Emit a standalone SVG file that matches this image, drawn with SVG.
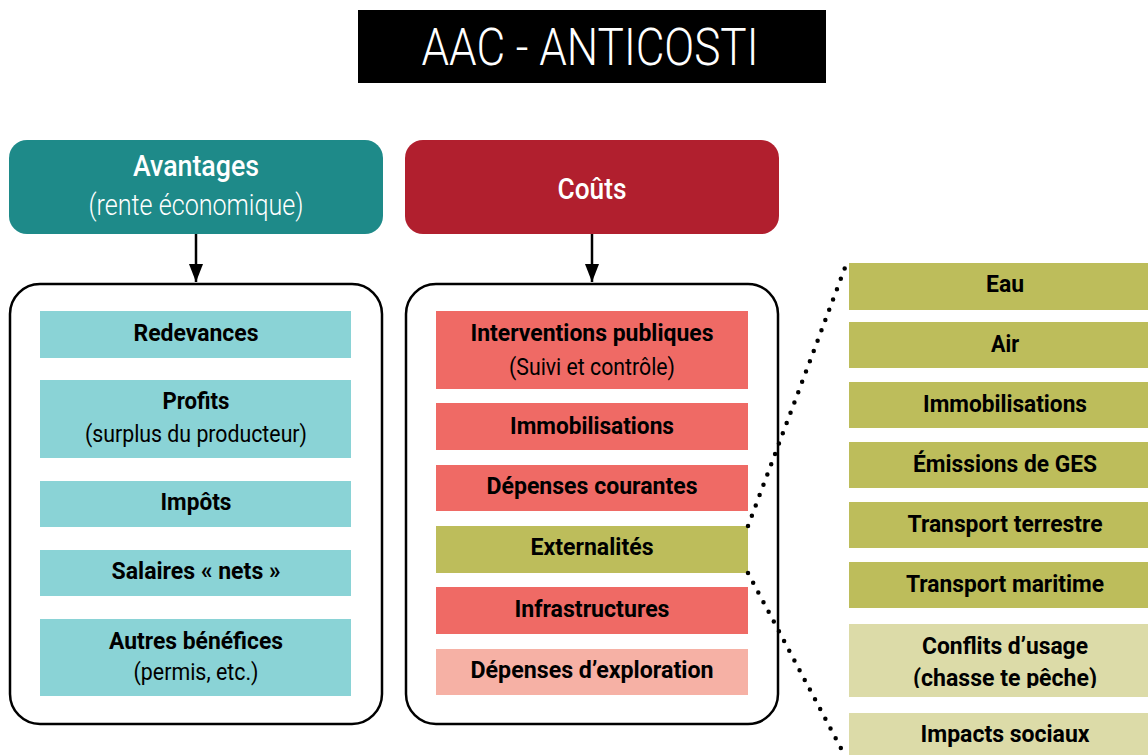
<svg xmlns="http://www.w3.org/2000/svg" width="1148" height="755" viewBox="0 0 1148 755">
<style>
text{font-family:Roboto,"Liberation Sans",sans-serif;text-anchor:middle}
.b{font-weight:700;font-size:24px;fill:#000}
.n{font-weight:400;font-size:24px;fill:#000}
.hw{font-weight:500;font-size:29px;fill:#fff}
.hl{font-weight:300;font-size:29px;fill:#fff}
.cont{fill:#fff;stroke:#000;stroke-width:2.5}
.teal{fill:#8ad3d6}
.sal{fill:#ef6a65}
.oli{fill:#bdbd5b}
.pink{fill:#f6b1a5}
.pale{fill:#dcdba8}
.dot{fill:none;stroke:#000;stroke-width:4.5;stroke-linecap:round;stroke-dasharray:0 11}
.arr{fill:none;stroke:#000;stroke-width:2.5;marker-end:url(#ah)}
</style>
<defs>
<marker id="ah" markerWidth="18" markerHeight="14" refX="18" refY="7" orient="auto" markerUnits="userSpaceOnUse" viewBox="0 0 18 14">
<path d="M0,0 L18,7 L0,14 Z" fill="#000"/>
</marker>
<clipPath id="cc"><rect x="849" y="624" width="299" height="64"/></clipPath>
</defs>
<rect width="1148" height="755" fill="#fff"/>

<g id="title">
<rect x="358" y="10" width="468" height="73" fill="#000"/>
<text x="590" y="65" style="font-weight:300;font-size:52px;fill:#fff" textLength="337" lengthAdjust="spacingAndGlyphs">AAC - ANTICOSTI</text>
</g>

<g id="avantages">
<rect x="9" y="140" width="374" height="94" rx="18" fill="#1e8a89"/>
<text class="hw" x="196" y="176" textLength="126" lengthAdjust="spacingAndGlyphs">Avantages</text>
<text class="hl" x="196" y="215" textLength="215" lengthAdjust="spacingAndGlyphs">(rente économique)</text>
</g>

<g id="couts">
<rect x="405" y="140" width="374" height="94" rx="18" fill="#b11f2e"/>
<text class="hw" x="592" y="199" textLength="69" lengthAdjust="spacingAndGlyphs">Coûts</text>
</g>

<g id="benefits-container">
<rect class="cont" x="10" y="284" width="372" height="440" rx="30"/>
</g>
<g id="redevances"><rect class="teal" x="40" y="311" width="311" height="47"/><text class="b" x="196" y="341" textLength="125" lengthAdjust="spacingAndGlyphs">Redevances</text></g>
<g id="profits"><rect class="teal" x="40" y="380" width="311" height="78"/><text class="b" x="196" y="409" textLength="67" lengthAdjust="spacingAndGlyphs">Profits</text><text class="n" x="196" y="442" textLength="222" lengthAdjust="spacingAndGlyphs">(surplus du producteur)</text></g>
<g id="impots"><rect class="teal" x="40" y="481" width="311" height="46"/><text class="b" x="196" y="510" textLength="71" lengthAdjust="spacingAndGlyphs">Impôts</text></g>
<g id="salaires"><rect class="teal" x="40" y="550" width="311" height="46"/><text class="b" x="196" y="579" textLength="169" lengthAdjust="spacingAndGlyphs">Salaires « nets »</text></g>
<g id="autres"><rect class="teal" x="40" y="619" width="311" height="77"/><text class="b" x="196" y="649" textLength="174" lengthAdjust="spacingAndGlyphs">Autres bénéfices</text><text class="n" x="196" y="680" textLength="125" lengthAdjust="spacingAndGlyphs">(permis, etc.)</text></g>

<g id="costs-container">
<rect class="cont" x="406" y="284" width="372" height="440" rx="30"/>
</g>
<g id="interventions"><rect class="sal" x="436" y="311" width="312" height="78"/><text class="b" x="592" y="341" textLength="243" lengthAdjust="spacingAndGlyphs">Interventions publiques</text><text class="n" x="592" y="375" textLength="166" lengthAdjust="spacingAndGlyphs">(Suivi et contrôle)</text></g>
<g id="immobilisations-c"><rect class="sal" x="436" y="403" width="312" height="47"/><text class="b" x="592" y="434" textLength="164" lengthAdjust="spacingAndGlyphs">Immobilisations</text></g>
<g id="depenses-courantes"><rect class="sal" x="436" y="465" width="312" height="46"/><text class="b" x="592" y="494" textLength="211" lengthAdjust="spacingAndGlyphs">Dépenses courantes</text></g>
<g id="externalites"><rect class="oli" x="436" y="526" width="312" height="47"/><text class="b" x="592" y="555" textLength="123" lengthAdjust="spacingAndGlyphs">Externalités</text></g>
<g id="infrastructures"><rect class="sal" x="436" y="587" width="312" height="47"/><text class="b" x="592" y="617" textLength="155" lengthAdjust="spacingAndGlyphs">Infrastructures</text></g>
<g id="exploration"><rect class="pink" x="436" y="649" width="312" height="46"/><text class="b" x="592" y="678" textLength="243" lengthAdjust="spacingAndGlyphs">Dépenses d’exploration</text></g>

<g id="eau"><rect class="oli" x="849" y="263" width="299" height="47"/><text class="b" x="1005" y="292" textLength="38" lengthAdjust="spacingAndGlyphs">Eau</text></g>
<g id="air"><rect class="oli" x="849" y="322" width="299" height="46"/><text class="b" x="1005" y="352" textLength="28" lengthAdjust="spacingAndGlyphs">Air</text></g>
<g id="immobilisations-e"><rect class="oli" x="849" y="382" width="299" height="46"/><text class="b" x="1005" y="412" textLength="164" lengthAdjust="spacingAndGlyphs">Immobilisations</text></g>
<g id="ges"><rect class="oli" x="849" y="442" width="299" height="46"/><text class="b" x="1005" y="472" textLength="184" lengthAdjust="spacingAndGlyphs">Émissions de GES</text></g>
<g id="terrestre"><rect class="oli" x="849" y="502" width="299" height="46"/><text class="b" x="1005" y="532" textLength="195" lengthAdjust="spacingAndGlyphs">Transport terrestre</text></g>
<g id="maritime"><rect class="oli" x="849" y="562" width="299" height="46"/><text class="b" x="1005" y="592" textLength="198" lengthAdjust="spacingAndGlyphs">Transport maritime</text></g>
<g id="conflits"><rect class="pale" x="849" y="624" width="299" height="73"/><g clip-path="url(#cc)"><text class="b" x="1005" y="654" textLength="166" lengthAdjust="spacingAndGlyphs">Conflits d’usage</text><text class="b" x="1005" y="686" textLength="184" lengthAdjust="spacingAndGlyphs">(chasse te pêche)</text></g></g>
<g id="impacts"><rect class="pale" x="849" y="713" width="299" height="42"/><text class="b" x="1005" y="742" textLength="169" lengthAdjust="spacingAndGlyphs">Impacts sociaux</text></g>

<g id="connectors">
<path d="M196,234 V282" class="arr"/>
<path d="M592,234 V282" class="arr"/>
<path class="dot" d="M748,526 L846,265"/>
<path class="dot" d="M748,573 L843,752"/>
</g>
</svg>
